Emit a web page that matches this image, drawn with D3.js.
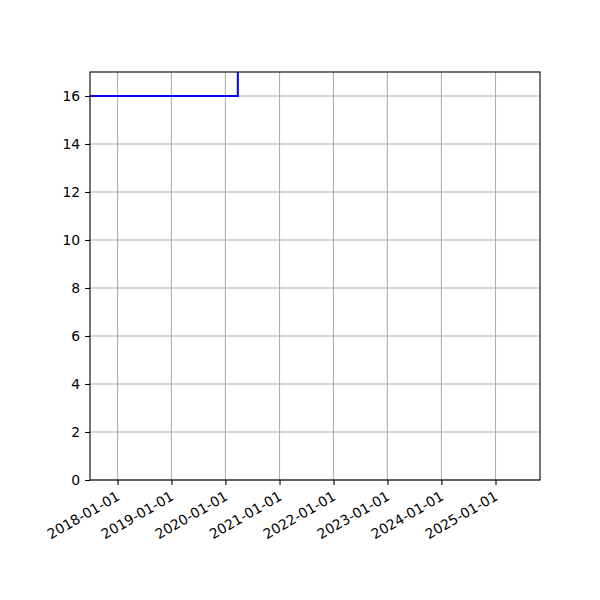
<!DOCTYPE html>
<html>
<head>
<meta charset="utf-8">
<script src="https://cdn.jsdelivr.net/npm/d3@7"></script>
<style>
  body { margin: 0; background: #fff; }
  svg text { font-family: "DejaVu Sans", sans-serif; }
</style>
</head>
<body>
<div id="chart"></div>
<script>
// step series: value holds until the next date
const stepDates = ["2017-06-01", "2020-03-25", "2026-01-01"];
const stepValues = [16, 20, 20];
const yTicks = [0, 2, 4, 6, 8, 10, 12, 14, 16];
const xTickYears = ["2018-01-01", "2019-01-01", "2020-01-01", "2021-01-01",
  "2022-01-01", "2023-01-01", "2024-01-01", "2025-01-01"];
const xLimits = ["2017-06-29", "2025-10-29"];
const yLimits = [0, 17];

const parse = d3.utcParse("%Y-%m-%d");
const margin = { top: 72, right: 60, bottom: 120, left: 90 };
const W = 600, H = 600;
const width = W - margin.left - margin.right;
const height = H - margin.top - margin.bottom;

const svg = d3.select("#chart").append("svg")
  .attr("width", W).attr("height", H);

const g = svg.append("g")
  .attr("transform", `translate(${margin.left},${margin.top})`);

const x = d3.scaleUtc().domain(xLimits.map(parse)).range([0, width]);
const y = d3.scaleLinear().domain(yLimits).range([height, 0]);

// grid
g.append("g")
  .selectAll("line")
  .data(xTickYears.map(parse))
  .enter().append("line")
  .attr("x1", (d) => x(d)).attr("x2", (d) => x(d))
  .attr("y1", 0).attr("y2", height)
  .attr("stroke", "#b0b0b0").attr("stroke-width", 1.1);

g.append("g")
  .selectAll("line")
  .data(yTicks)
  .enter().append("line")
  .attr("x1", 0).attr("x2", width)
  .attr("y1", (d) => y(d)).attr("y2", (d) => y(d))
  .attr("stroke", "#b0b0b0").attr("stroke-width", 1.1);

g.append("clipPath").attr("id", "clip")
  .append("rect").attr("width", width).attr("height", height);

const data = stepDates.map((d, i) => ({ date: parse(d), value: stepValues[i] }));
const line = d3.line()
  .x((d) => x(d.date))
  .y((d) => y(d.value))
  .curve(d3.curveStepAfter);

g.append("path")
  .datum(data)
  .attr("clip-path", "url(#clip)")
  .attr("fill", "none")
  .attr("stroke", "#0000ff")
  .attr("stroke-width", 2)
  .attr("d", line);

// axes
const xAxis = g.append("g")
  .attr("transform", `translate(0,${height})`)
  .call(d3.axisBottom(x)
    .tickValues(xTickYears.map(parse))
    .tickFormat(d3.utcFormat("%Y-%m-%d"))
    .tickSize(4.9).tickPadding(3));
xAxis.select(".domain").remove();
xAxis.selectAll("line").attr("stroke", "#000").attr("stroke-width", 1.1);
// top-right corner of the rotated label sits under the tick
xAxis.selectAll("text")
  .attr("font-size", "13.9px")
  .attr("fill", "#000")
  .attr("text-anchor", "end")
  .attr("x", 0).attr("y", 0)
  .attr("dy", "0.76em")
  .attr("transform", "translate(-2.5,10) rotate(-30)");

const yAxis = g.append("g")
  .call(d3.axisLeft(y).tickValues(yTicks).tickSize(4.9).tickPadding(4.9));
yAxis.select(".domain").remove();
yAxis.selectAll("line").attr("stroke", "#000").attr("stroke-width", 1.1);
yAxis.selectAll("text").attr("font-size", "13.9px").attr("fill", "#000");

// frame
g.append("rect")
  .attr("width", width).attr("height", height)
  .attr("fill", "none").attr("stroke", "#000").attr("stroke-width", 1.1);
</script>
</body>
</html>
